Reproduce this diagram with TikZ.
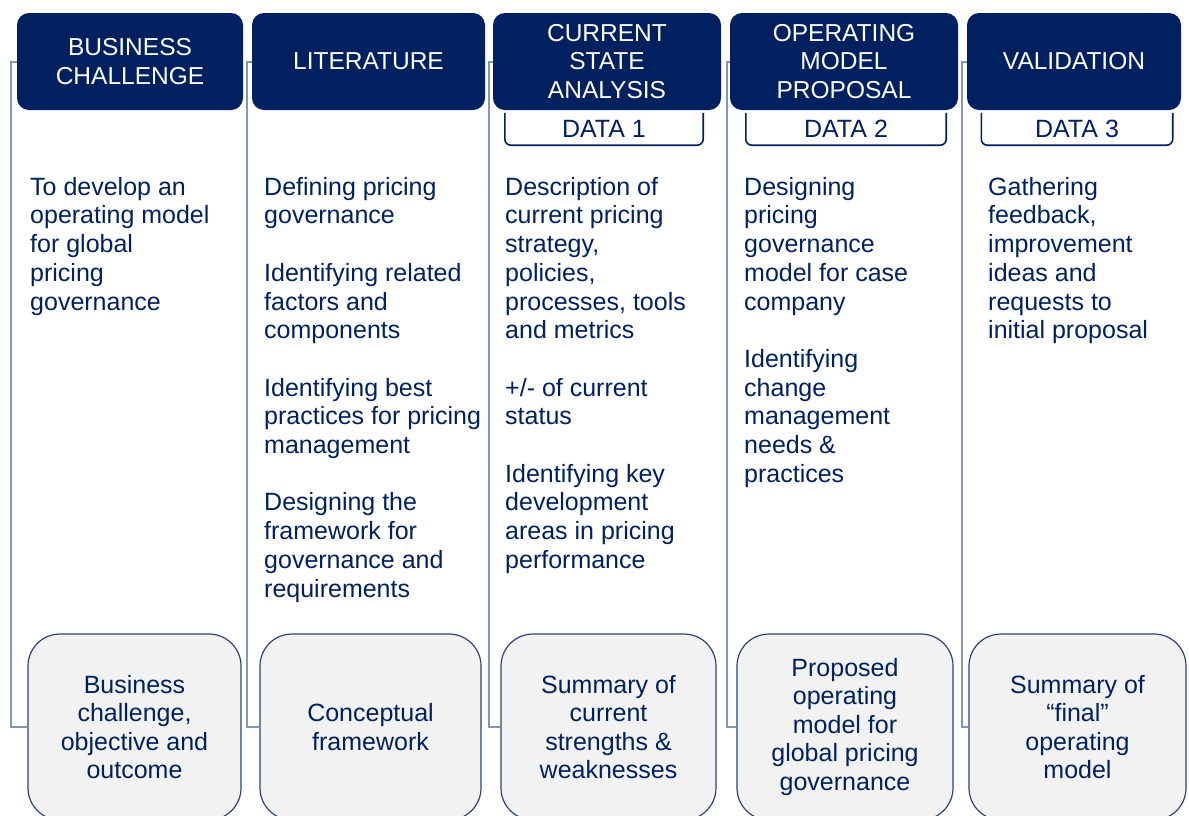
\documentclass[tikz,border=0pt]{standalone}
\usepackage{fontspec}
\setmainfont{Liberation Sans}
\definecolor{navy}{HTML}{002060}
\definecolor{brk}{HTML}{8496B0}
\definecolor{boxfill}{HTML}{F2F2F2}
\definecolor{boxline}{HTML}{2E4375}
\newcommand{\firstline}{\rule{0pt}{20pt}}
\begin{document}
\begin{tikzpicture}[x=1pt,y=-1pt,
  header/.style={fill=navy, draw=none, rounded corners=12pt, text=white, align=center,
    font=\fontsize{24.5}{28.5}\selectfont, minimum height=97pt, inner sep=0pt},
  datab/.style={draw=none, text=navy, minimum height=32pt, inner sep=0pt,
    font=\fontsize{25}{28.5}\selectfont},
  dataline/.style={draw=navy, line width=1.6pt, rounded corners=6pt},
  bodytext/.style={anchor=north west, inner sep=0pt, align=left, text=navy,
    font=\fontsize{25}{28.7}\selectfont},
  outbox/.style={draw=boxline, line width=1.2pt, fill=boxfill, rounded corners=32pt,
    minimum height=186pt, align=center, text=navy, inner sep=0pt,
    font=\fontsize{25}{28.5}\selectfont},
  bracket/.style={draw=brk, line width=1.4pt}
]
\useasboundingbox (0,0) rectangle (1189,815);
\clip (0,0) rectangle (1189,815);

% brackets
\coordinate (t1) at (11,62);
\coordinate (t2) at (247,62);
\coordinate (t3) at (489,62);
\coordinate (t4) at (727,62);
\coordinate (t5) at (962,62);

% bottom boxes
\node[outbox, minimum width=213pt] (o1) at (134.5,727) {Business\\challenge,\\objective and\\outcome};
\node[outbox, minimum width=221pt] (o2) at (370.5,727) {Conceptual\\framework};
\node[outbox, minimum width=215pt] (o3) at (608.5,727) {Summary of\\current\\strengths \&\\weaknesses};
\node[outbox, minimum width=216pt] (o4) at (845,727) {Proposed\\operating\\model for\\global pricing\\governance};
\node[outbox, minimum width=217pt] (o5) at (1077.5,727) {Summary of\\“final”\\operating\\model};

\foreach \i in {1,...,5}{
  \draw[bracket] ([xshift=6pt]t\i) -- (t\i) -- (t\i |- o\i.west) -- (o\i.west);
}

% headers
\node[header, minimum width=226pt] (h1) at (130,61.5) {BUSINESS\\CHALLENGE};
\node[header, minimum width=233pt] (h2) at (368.5,61.5) {LITERATURE};
\node[header, minimum width=228pt] (h3) at (607,61.5) {CURRENT\\STATE\\ANALYSIS};
\node[header, minimum width=228pt] (h4) at (844,61.5) {OPERATING\\MODEL\\PROPOSAL};
\node[header, minimum width=214pt] (h5) at (1074,61.5) {VALIDATION};

% data boxes
\node[datab, minimum width=198pt] (d1) at (604,129) {DATA 1};
\node[datab, minimum width=200pt] (d2) at (846,129) {DATA 2};
\node[datab, minimum width=191pt] (d3) at (1077,129) {DATA 3};
\foreach \i in {1,2,3}{
  \draw[dataline] (d\i.north west) -- (d\i.south west) -- (d\i.south east) -- (d\i.north east);
}

% body texts (first baseline at y=195)
\node[bodytext] (b1) at (30,175) {\firstline To develop an\\operating model\\for global\\pricing\\governance};
\node[bodytext] (b2) at (264,175) {\firstline Defining pricing\\governance\\[28.7pt]Identifying related\\factors and\\components\\[28.7pt]Identifying best\\practices for pricing\\management\\[28.7pt]Designing the\\framework for\\governance and\\requirements};
\node[bodytext] (b3) at (505,175) {\firstline Description of\\current pricing\\strategy,\\policies,\\processes, tools\\and metrics\\[28.7pt]+/- of current\\status\\[28.7pt]Identifying key\\development\\areas in pricing\\performance};
\node[bodytext] (b4) at (744,175) {\firstline Designing\\pricing\\governance\\model for case\\company\\[28.7pt]Identifying\\change\\management\\needs \&\\practices};
\node[bodytext] (b5) at (988,175) {\firstline Gathering\\feedback,\\improvement\\ideas and\\requests to\\initial proposal};
\end{tikzpicture}
\end{document}
